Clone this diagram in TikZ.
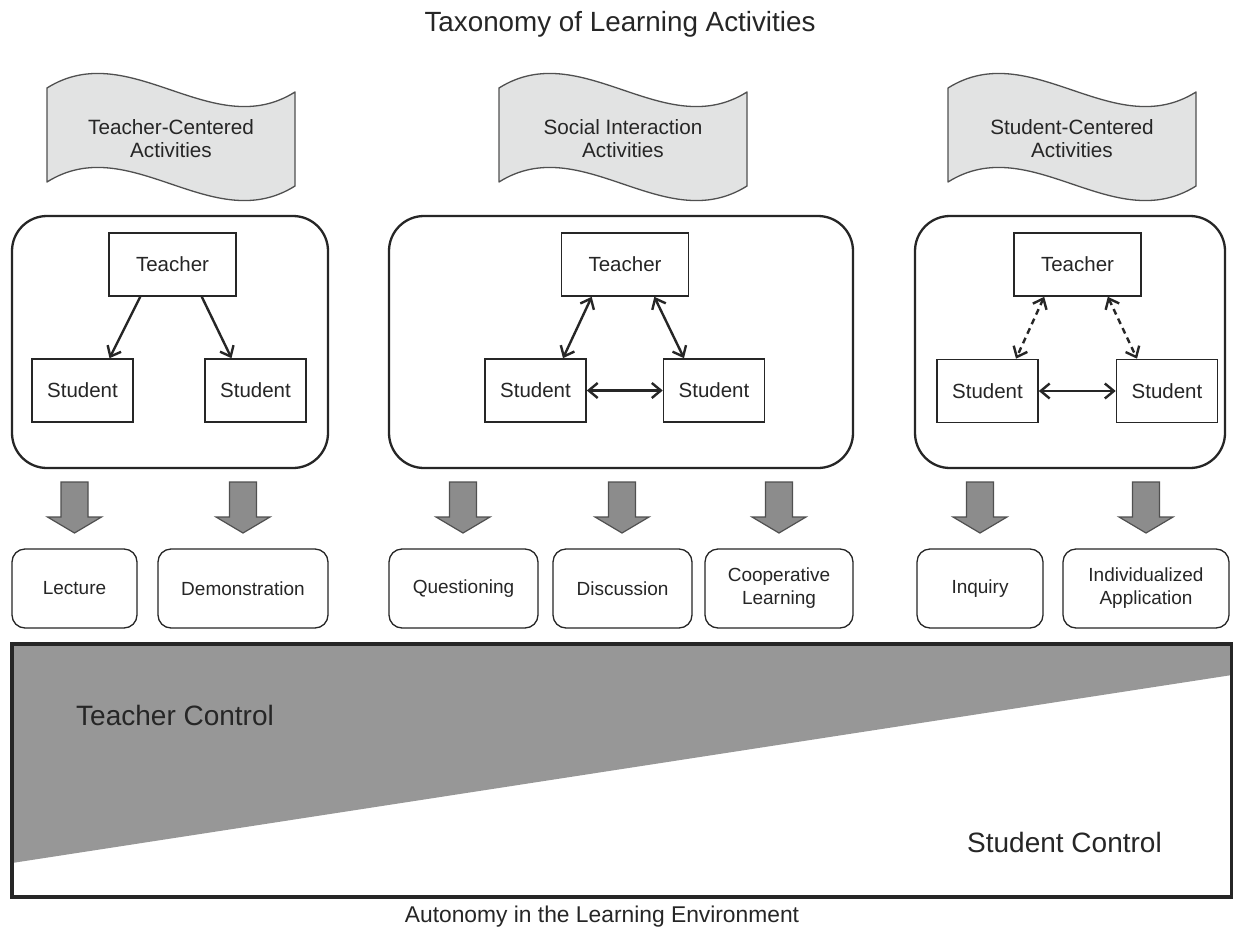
\documentclass[tikz,border=0pt]{standalone}
\usepackage{fontspec}
\setmainfont{Liberation Sans}
\usetikzlibrary{arrows.meta}

\definecolor{ink}{HTML}{262626}
\definecolor{bannerfill}{HTML}{E2E3E3}
\definecolor{bannerline}{HTML}{505050}
\definecolor{blockfill}{HTML}{8C8C8C}
\definecolor{blockline}{HTML}{505050}
\definecolor{controlgray}{HTML}{979797}

\tikzset{
  banner/.style={fill=bannerfill, draw=bannerline, line width=1.3pt, line join=round},
  bannertext/.style={align=center, text=ink, font=\fontsize{20.7}{23}\selectfont},
  group/.style={draw=ink, line width=2.3pt, rounded corners=35pt, minimum height=252pt},
  person/.style={draw=ink, line width=1.6pt, minimum height=63pt, minimum width=101pt,
    inner sep=0pt, text=ink, font=\fontsize{20.5}{24}\selectfont},
  lead/.style={person, minimum width=127pt},
  activity/.style={draw=ink, line width=1.3pt, rounded corners=13pt, minimum height=79pt,
    inner sep=0pt, align=center, text=ink, font=\fontsize{19}{23}\selectfont},
  tipbarb/.tip={Straight Barb[length=9pt,width=15pt,line width=2.4pt]},
  oneway/.style={draw=ink, line width=2.4pt, -tipbarb},
  twoway/.style={draw=ink, line width=2.4pt, tipbarb-tipbarb},
  loose/.style={twoway, dash pattern=on 6pt off 4.5pt},
  blockarrow/.style={fill=blockfill, draw=blockline, line width=1.2pt, line join=miter},
  label/.style={text=ink, inner sep=0pt}
}

% wavy banner, #1 = left edge
\newcommand\wavebanner[1]{%
  \begin{scope}[xshift=#1pt]
    \draw[banner] (0,88) .. controls (82.7,36) and (165.3,144) .. (248,92)
      -- (248,186) .. controls (165.3,238) and (82.7,130) .. (0,182) -- cycle;
  \end{scope}}

% broad downward arrow centred on x = #1
\newcommand\blockdown[1]{%
  \begin{scope}[xshift=#1pt]
    \draw[blockarrow] (-13.5,482) -- (13.5,482) -- (13.5,517) -- (27,517)
      -- (0,533) -- (-27,517) -- (-13.5,517) -- cycle;
  \end{scope}}

\begin{document}
\begin{tikzpicture}[x=1pt,y=-1pt]
  \useasboundingbox (0,0) rectangle (1233,934);
  \fill[white] (0,0) rectangle (1233,934);

  % title
  \node[label, anchor=base, font=\fontsize{27.8}{31}\selectfont] (title) at (620,32)
    {Taxonomy of Learning Activities};

  % banners
  \wavebanner{47}
  \wavebanner{499}
  \wavebanner{948}
  \node[bannertext] (b1) at (171,139) {Teacher-Centered\\Activities};
  \node[bannertext] (b2) at (623,139) {Social Interaction\\Activities};
  \node[bannertext] (b3) at (1072,139) {Student-Centered\\Activities};

  % group frames
  \node[group, minimum width=316pt] (g1) at (170,342) {};
  \node[group, minimum width=464pt] (g2) at (621,342) {};
  \node[group, minimum width=310pt] (g3) at (1070,342) {};

  % teacher-centered
  \node[lead]   (t1)  at (172.5,264.5) {Teacher};
  \node[person] (s1a) at (82.5,390.5)  {Student};
  \node[person] (s1b) at (255.5,390.5) {Student};
  \draw[oneway] ([xshift=32pt]t1.south west) -- ([xshift=27pt]s1a.north);
  \draw[oneway] ([xshift=-35pt]t1.south east) -- ([xshift=-24pt]s1b.north);

  % social interaction
  \node[lead]   (t2)  at (625,264.5)   {Teacher};
  \node[person] (s2a) at (535.5,390.5) {Student};
  \node[person] (s2b) at (714,390.5)   {Student};
  \draw[twoway] ([xshift=31pt]t2.south west) -- ([xshift=27.5pt]s2a.north);
  \draw[twoway] ([xshift=-35pt]t2.south east) -- ([xshift=-30pt]s2b.north);
  \draw[twoway] (s2a.east) -- (s2b.west);

  % student-centered
  \node[lead]   (t3)  at (1077.5,264.5) {Teacher};
  \node[person] (s3a) at (987.5,391)    {Student};
  \node[person] (s3b) at (1167,391)     {Student};
  \draw[loose] ([xshift=31pt]t3.south west) -- ([xshift=28.5pt]s3a.north);
  \draw[loose] ([xshift=-34pt]t3.south east) -- ([xshift=-30pt]s3b.north);
  \draw[twoway] (s3a.east) -- (s3b.west);

  % broad arrows
  \foreach \x in {74.5,243,463,622,779,980,1146} { \blockdown{\x} }

  % activities
  \node[activity, minimum width=125pt] (a1) at (74.5,588.5) {Lecture};
  \node[activity, minimum width=170pt] (a2) at (243,588.5)  {Demonstration};
  \node[activity, minimum width=149pt] (a3) at (463.5,588.5) {Questioning};
  \node[activity, minimum width=139pt] (a4) at (622.5,588.5) {Discussion};
  \node[activity, minimum width=148pt] (a5) at (779,588.5)  {Cooperative\\Learning};
  \node[activity, minimum width=126pt] (a6) at (980,588.5)  {Inquiry};
  \node[activity, minimum width=166pt] (a7) at (1146,588.5) {Individualized\\Application};

  % control scale
  \fill[controlgray] (12,644) -- (1232,644) -- (1232,675) -- (12,863) -- cycle;
  \node[draw=ink, line width=3.5pt, minimum width=1220pt, minimum height=253pt, inner sep=0pt]
    (scale) at (622,770.5) {};
  \node[label, anchor=base west, font=\fontsize{28}{32}\selectfont] (tc) at (76,725) {Teacher Control};
  \node[label, anchor=base west, font=\fontsize{28}{32}\selectfont] (sc) at (967,852) {Student Control};

  % axis caption
  \node[label, anchor=base, font=\fontsize{22.8}{26}\selectfont] (axis) at (602,922)
    {Autonomy in the Learning Environment};
\end{tikzpicture}
\end{document}
